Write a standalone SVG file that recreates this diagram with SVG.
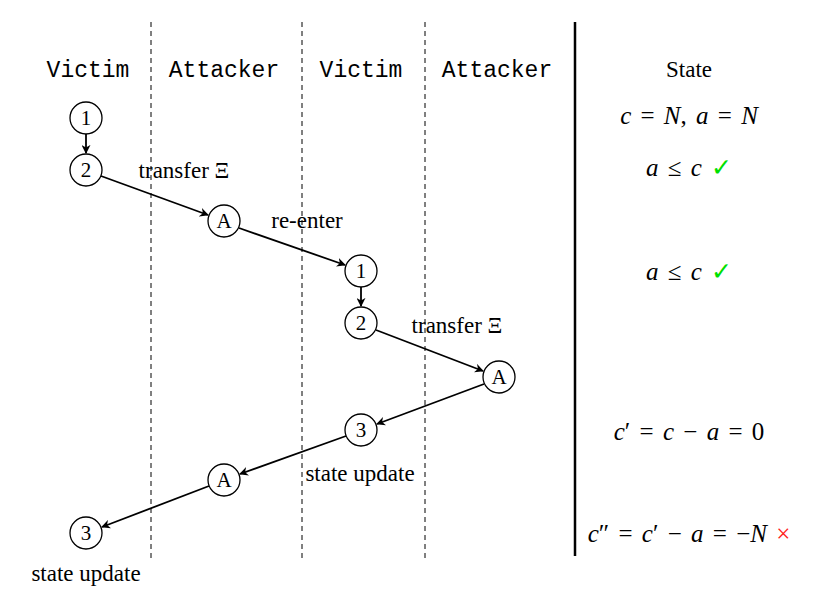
<svg xmlns="http://www.w3.org/2000/svg" width="830" height="613" viewBox="0 0 830 613">
<defs>
<marker id="ah" viewBox="0 0 10 10" refX="9" refY="5" markerWidth="9" markerHeight="9" orient="auto" markerUnits="userSpaceOnUse"><path d="M0,0 L10,5 L0,10 L3,5 Z" fill="#000"/></marker>
</defs>
<style>
.hd{font-family:"Liberation Mono",monospace;font-size:23px;text-anchor:middle}
.t{font-family:"Liberation Serif",serif;font-size:23px;text-anchor:middle}
.m{font-family:"Liberation Serif",serif;font-size:25px;text-anchor:middle;word-spacing:3px}
.n circle{fill:#fff;stroke:#000;stroke-width:1.3}
.n text{font-family:"Liberation Serif",serif;font-size:21px;text-anchor:middle}
.dash{stroke:#000;stroke-width:1;stroke-dasharray:5,4}
.c line{stroke:#000;stroke-width:1.8;marker-end:url(#ah)}
</style>
<rect width="830" height="613" fill="#fff"/>
<line class="dash" x1="151" y1="22" x2="151" y2="558"/>
<line class="dash" x1="302" y1="22" x2="302" y2="558"/>
<line class="dash" x1="425" y1="22" x2="425" y2="558"/>
<line x1="575" y1="22" x2="575" y2="556" stroke="#000" stroke-width="2.5"/>
<text class="hd" x="88" y="77">Victim</text>
<text class="hd" x="224" y="77">Attacker</text>
<text class="hd" x="361" y="77">Victim</text>
<text class="hd" x="497" y="77">Attacker</text>
<text class="t" x="689" y="77">State</text>
<g class="c">
<line x1="86" y1="134" x2="86" y2="153"/>
<line x1="101" y1="176" x2="208" y2="215"/>
<line x1="239" y1="228" x2="345" y2="265"/>
<line x1="361" y1="287" x2="361" y2="306"/>
<line x1="376" y1="330" x2="483" y2="371"/>
<line x1="484" y1="384" x2="377" y2="424"/>
<line x1="346" y1="436" x2="240" y2="474"/>
<line x1="209" y1="486" x2="102" y2="527"/>
</g>
<g id="v1" class="n"><circle cx="86" cy="118" r="16"/><text x="86" y="125">1</text></g>
<g id="v2" class="n"><circle cx="86" cy="170" r="16"/><text x="86" y="177">2</text></g>
<g id="a1" class="n"><circle cx="224" cy="221" r="16"/><text x="224" y="228">A</text></g>
<g id="v1b" class="n"><circle cx="361" cy="271" r="16"/><text x="361" y="278">1</text></g>
<g id="v2b" class="n"><circle cx="361" cy="323" r="16"/><text x="361" y="330">2</text></g>
<g id="a2" class="n"><circle cx="499" cy="377" r="16"/><text x="499" y="384">A</text></g>
<g id="v3b" class="n"><circle cx="361" cy="430" r="16"/><text x="361" y="437">3</text></g>
<g id="a3" class="n"><circle cx="224" cy="480" r="16"/><text x="224" y="487">A</text></g>
<g id="v3" class="n"><circle cx="86" cy="533" r="16"/><text x="86" y="540">3</text></g>
<text class="t" x="184" y="178">transfer Ξ</text>
<text class="t" x="307" y="228">re-enter</text>
<text class="t" x="457" y="333">transfer Ξ</text>
<text class="t" x="360" y="481">state update</text>
<text class="t" x="86" y="581">state update</text>
<text class="m" x="689" y="124" font-style="italic">c <tspan font-style="normal">=</tspan> N<tspan font-style="normal">,</tspan> a <tspan font-style="normal">=</tspan> N</text>
<text class="m" x="689" y="176"><tspan font-style="italic">a</tspan> ≤ <tspan font-style="italic">c</tspan> <tspan fill="#00e000">✓</tspan></text>
<text class="m" x="689" y="280"><tspan font-style="italic">a</tspan> ≤ <tspan font-style="italic">c</tspan> <tspan fill="#00e000">✓</tspan></text>
<text class="m" x="689" y="440"><tspan font-style="italic">c</tspan>′ = <tspan font-style="italic">c</tspan> − <tspan font-style="italic">a</tspan> = 0</text>
<text class="m" x="689" y="542"><tspan font-style="italic">c</tspan>″ = <tspan font-style="italic">c</tspan>′ − <tspan font-style="italic">a</tspan> = −<tspan font-style="italic">N</tspan> <tspan fill="#ff2020">×</tspan></text>
</svg>
